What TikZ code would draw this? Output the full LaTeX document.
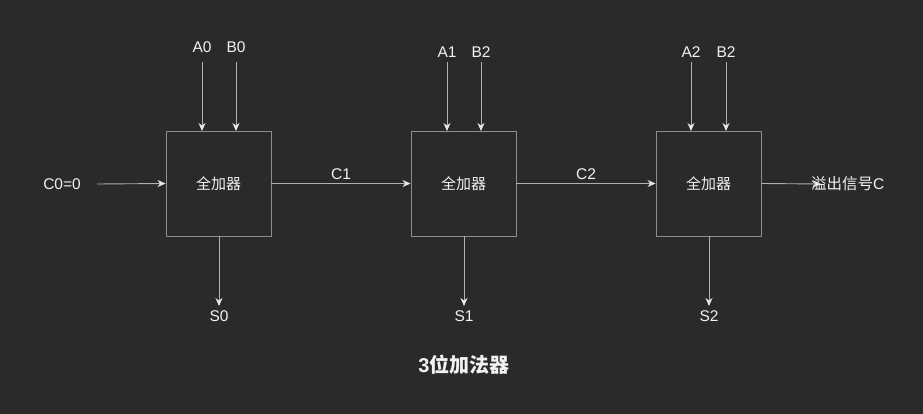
\documentclass[tikz,border=0pt]{standalone}
\usepackage{fontspec}
\setmainfont{Liberation Sans}
\newfontfamily\cjk{Noto Sans CJK SC}
\usetikzlibrary{arrows.meta}
\definecolor{bg}{HTML}{2A2A2A}
\definecolor{ln}{HTML}{B0B0B0}
\definecolor{bx}{HTML}{8E8E8E}
\definecolor{tx}{HTML}{F2F2F2}
\definecolor{hd}{HTML}{E6E6E6}
\begin{document}
\begin{tikzpicture}[x=1pt,y=-1pt,
  fa/.style={draw=bx,line width=0.9pt,minimum width=105pt,minimum height=105pt,inner sep=0pt,text=tx,font=\fontsize{15}{18}\selectfont\cjk},
  lbl/.style={text=tx,inner sep=0pt,font=\fontsize{15.5}{18}\selectfont},
  conn/.style={draw=ln,line width=0.9pt,-{Stealth[length=8pt,width=7pt,inset=2.5pt,fill=hd,color=hd]}},
  ttl/.style={text=tx,inner sep=0pt,font=\fontsize{20}{24}\selectfont\bfseries}]
\fill[bg] (0,0) rectangle (923,414);
\useasboundingbox (0,0) rectangle (923,414);
% boxes
\node[fa] (f1) at (218.5,183.5) {全加器};
\node[fa] (f2) at (463.5,183.5) {全加器};
\node[fa] (f3) at (708.5,183.5) {全加器};
% top inputs
\node[lbl] (a0) at (202,47) {A0};
\node[lbl] (b0) at (236,47) {B0};
\node[lbl] (a1) at (447,52) {A1};
\node[lbl] (b1) at (481,52) {B2};
\node[lbl] (a2) at (691,52) {A2};
\node[lbl] (b2) at (726,52) {B2};
\coordinate (a0s) at (202,62); \coordinate (a0e) at (202,131);
\coordinate (b0s) at (236,62); \coordinate (b0e) at (236,131);
\coordinate (a1s) at (447,62); \coordinate (a1e) at (447,131);
\coordinate (b1s) at (481,62); \coordinate (b1e) at (481,131);
\coordinate (a2s) at (691,62); \coordinate (a2e) at (691,131);
\coordinate (b2s) at (726,62); \coordinate (b2e) at (726,131);
\draw[conn] (a0s) -- (a0e);
\draw[conn] (b0s) -- (b0e);
\draw[conn] (a1s) -- (a1e);
\draw[conn] (b1s) -- (b1e);
\draw[conn] (a2s) -- (a2e);
\draw[conn] (b2s) -- (b2e);
% carry chain
\node[lbl] (c0) at (62,184) {C0=0};
\coordinate (c0s) at (97,184);
\draw[conn] (c0s) -- (f1.west);
\draw[conn] (f1.east) -- node[lbl,above=3pt] (c1) {C1} (f2.west);
\draw[conn] (f2.east) -- node[lbl,above=3pt] (c2) {C2} (f3.west);
\coordinate (ovf) at (821,184);
\draw[conn] (f3.east) -- (ovf);
\node[lbl,anchor=west] (cout) at (811,184) {{\cjk 溢出信号}C};
% sums
\node[lbl] (s0) at (219,316) {S0};
\node[lbl] (s1) at (464,316) {S1};
\node[lbl] (s2) at (709,316) {S2};
\coordinate (s0e) at (219,306);
\coordinate (s1e) at (464,306);
\coordinate (s2e) at (709,306);
\draw[conn] (f1.south -| s0e) -- (s0e);
\draw[conn] (f2.south -| s1e) -- (s1e);
\draw[conn] (f3.south -| s2e) -- (s2e);
% title
\node[ttl] (title) at (464,365) {3{\cjk 位加法器}};
\end{tikzpicture}
\end{document}
